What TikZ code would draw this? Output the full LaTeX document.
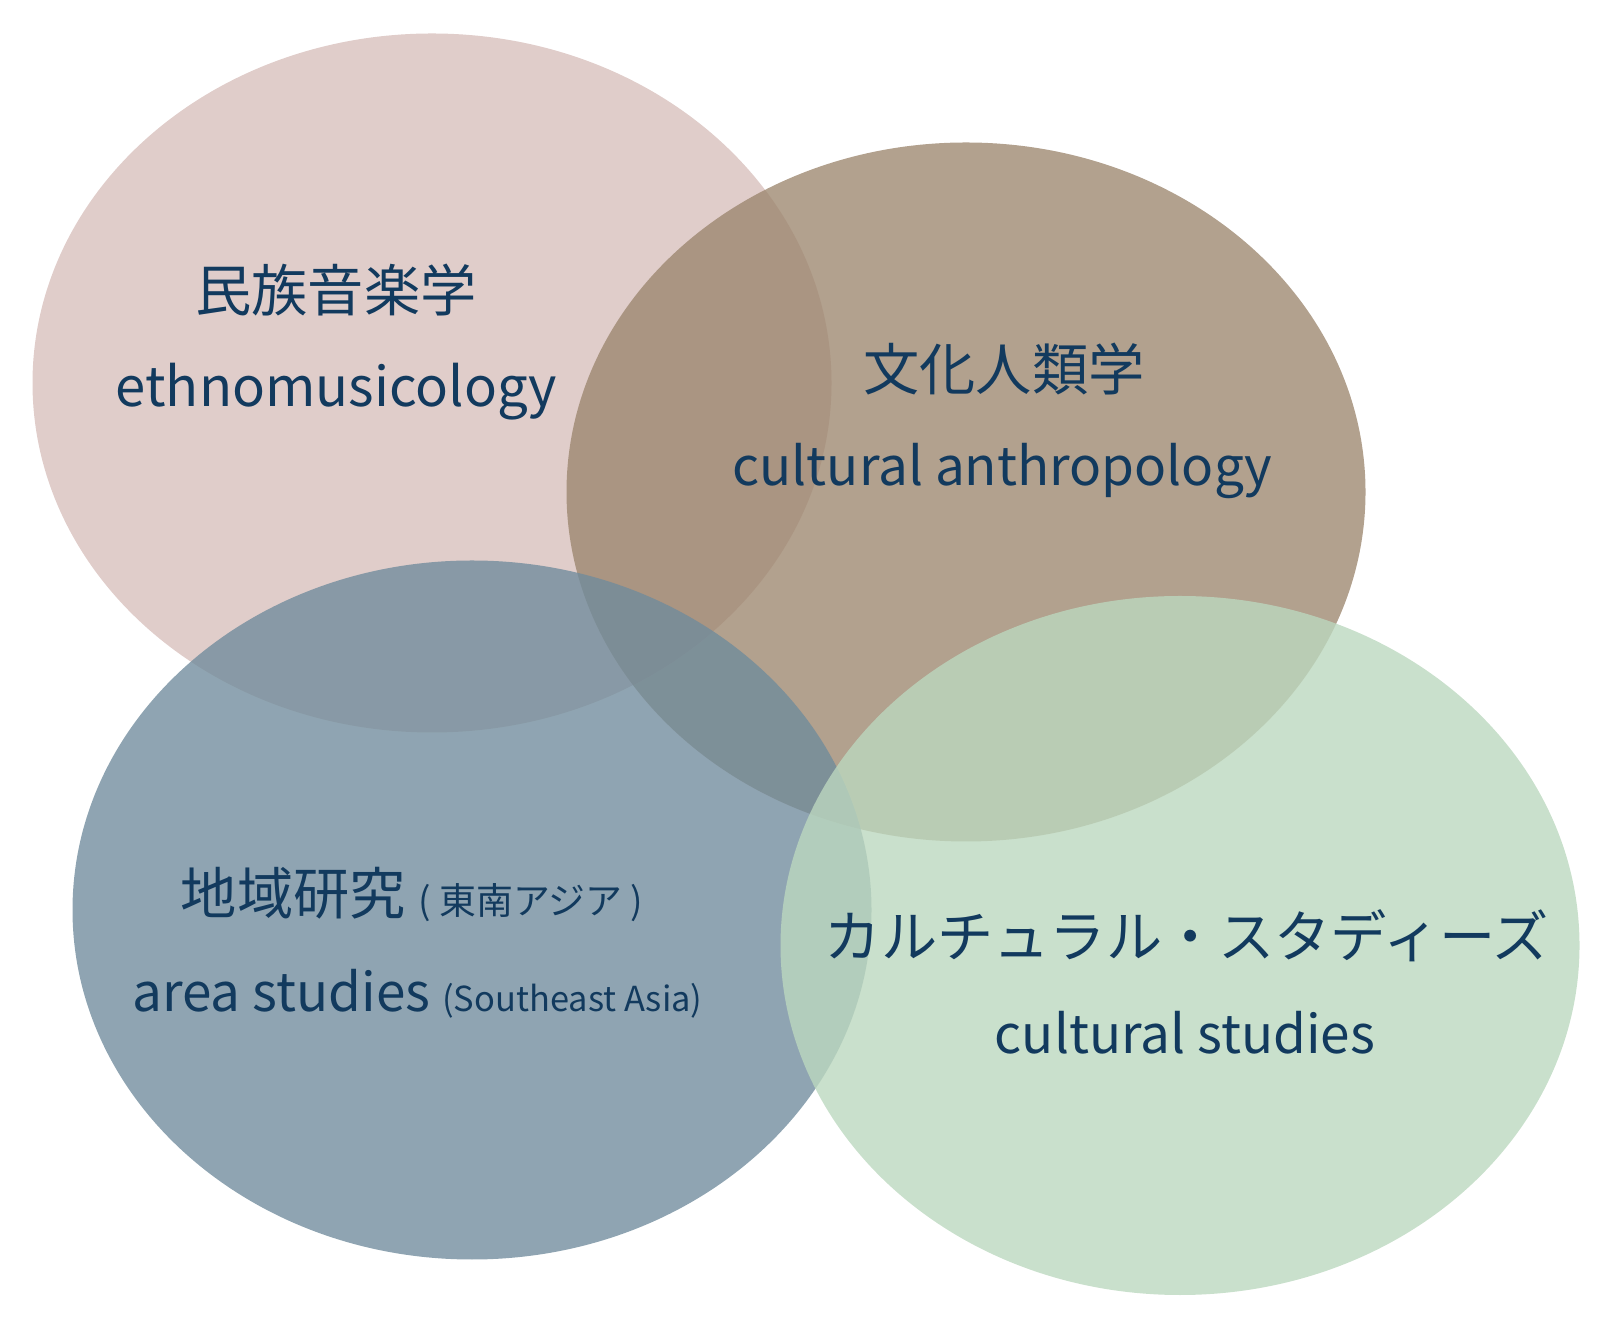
\documentclass[tikz,border=0pt]{standalone}
\usepackage{fontspec}
\setmainfont{Noto Sans CJK JP}
\usepackage{xcolor}
\definecolor{ethnocol}{RGB}{224,205,202}
\definecolor{anthrocol}{RGB}{156,134,110}
\definecolor{areacol}{RGB}{112,139,156}
\definecolor{studcol}{RGB}{188,216,191}
\definecolor{labcol}{RGB}{18,58,94}

\begin{document}
\begin{tikzpicture}[
	lab/.style={text=labcol,inner sep=0pt,font=\fontsize{15.1}{18}\selectfont},
	jlab/.style={lab,font=\fontsize{16}{19}\selectfont}]
			\useasboundingbox (0,0) rectangle (16,13.34);
			\fill[ethnocol] (4.32,9.51) ellipse [x radius=3.995, y radius=3.495];
			\fill[anthrocol,fill opacity=0.78] (9.66,8.42) ellipse [x radius=3.995, y radius=3.495];
			\fill[areacol,fill opacity=0.78] (4.72,4.24) ellipse [x radius=3.995, y radius=3.495];
			\fill[studcol,fill opacity=0.8] (11.80,3.885) ellipse [x radius=3.995, y radius=3.495];
			
			\node (ethnoJ)[jlab] at (3.36,10.44) {民族音楽学};
			\node (ethnoE)[lab,anchor=base,font=\fontsize{15.5}{18}\selectfont] at (3.365,9.27) {ethnomusicology};
			
			\node (anthroJ)[jlab] at (10.04,9.65) {文化人類学};
			\node (anthroE)[lab,anchor=base] at (10.025,8.48) {cultural anthropology};
			
			\node (areaJ)[jlab] at (4.12,4.40) {地域研究 {\fontsize{10.5}{12}\selectfont ( 東南アジア )}};
			\node (areaE)[lab,anchor=base] at (4.175,3.22) {area studies {\fontsize{9.8}{12}\selectfont (Southeast Asia)}};
			
			\node (studJ)[jlab] at (11.87,3.98) {カルチュラル・スタディーズ};
			\node (studE)[lab,anchor=base] at (11.85,2.80) {cultural studies};
		\end{tikzpicture}
\end{document}
